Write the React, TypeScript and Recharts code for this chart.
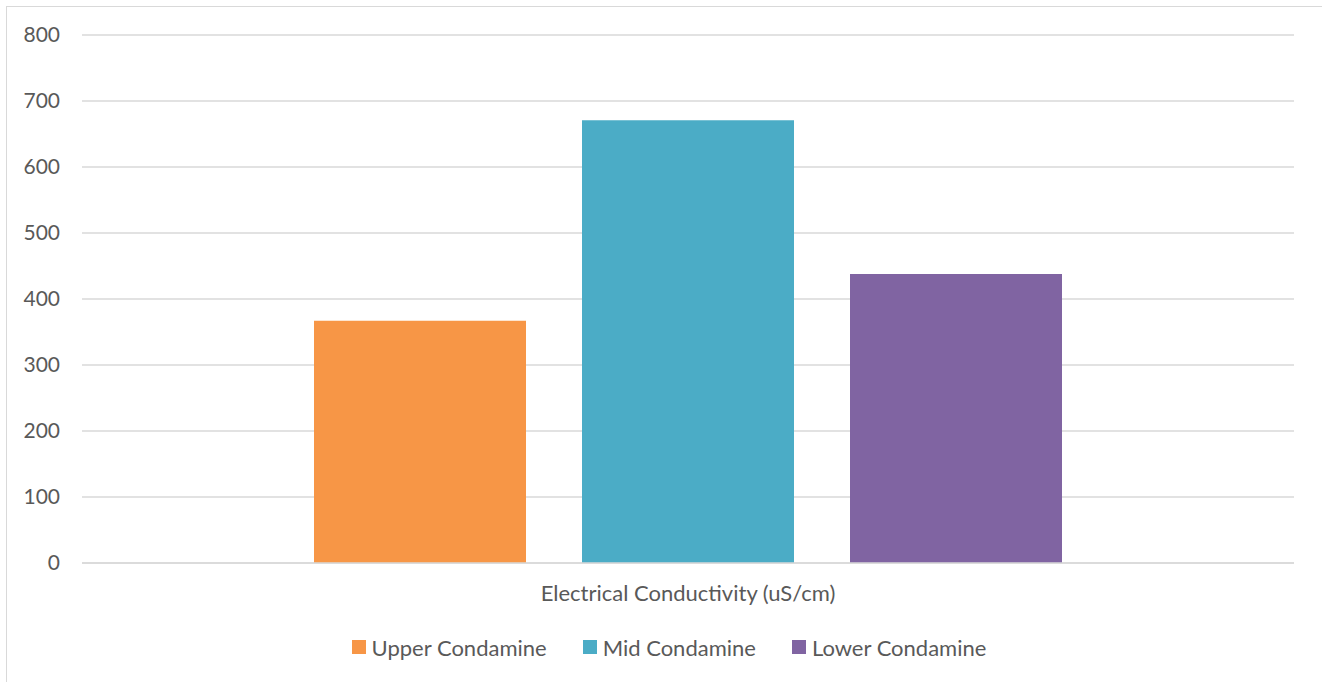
import { BarChart, Bar, XAxis, YAxis, CartesianGrid, Legend } from 'recharts';

const categories = ['Electrical Conductivity (uS/cm)'];
const seriesNames = ['Upper Condamine', 'Mid Condamine', 'Lower Condamine'];
const upperValues = [367];
const midValues = [671];
const lowerValues = [438];
const yTicks = [0, 100, 200, 300, 400, 500, 600, 700, 800];

const colors = ['#F79646', '#4BACC6', '#8064A2'];
const keys = ['upper', 'mid', 'lower'];

const data = categories.map((name, i) => ({
  name,
  upper: upperValues[i],
  mid: midValues[i],
  lower: lowerValues[i],
}));

const font = 'Lato, "Open Sans", sans-serif';
const textColor = '#595959';

function LegendContent({ payload }: any) {
  const items = [...(payload || [])].sort(
    (a: any, b: any) => seriesNames.indexOf(a.value) - seriesNames.indexOf(b.value)
  );
  return (
    <div style={{ height: 30, display: 'flex', justifyContent: 'center', alignItems: 'center', paddingLeft: 44, fontFamily: font, fontSize: 22, color: textColor }}>
      {items.map((p: any) => (
        <div key={p.value} style={{ display: 'flex', alignItems: 'center', margin: '0 18px' }}>
          <span style={{ width: 14, height: 14, background: p.color, display: 'inline-block', marginRight: 6 }} />
          <span>{p.value}</span>
        </div>
      ))}
    </div>
  );
}

export default function App() {
  return (
    <div style={{ position: 'absolute', left: 0, top: 0, width: 1322, height: 682, background: '#fff', overflow: 'hidden' }}>
      <div style={{ position: 'absolute', left: 6, top: 6, width: 1330, height: 690, border: '1px solid #d9d9d9', boxSizing: 'border-box' }} />
      <BarChart
        width={1322}
        height={682}
        data={data}
        margin={{ top: 35, right: 28, bottom: 20, left: 0 }}
        barSize={212}
        barGap={56}
        style={{ position: 'absolute', left: 0, top: 0 }}
      >
        <CartesianGrid vertical={false} stroke="#d9d9d9" strokeWidth={1.3} />
        <XAxis
          dataKey="name"
          height={69}
          tickLine={false}
          axisLine={{ stroke: '#d9d9d9', strokeWidth: 1.3 }}
          tickSize={0}
          tickMargin={22}
          tick={{ fontSize: 22, fill: textColor, fontFamily: font }}
        />
        <YAxis
          domain={[0, 800]}
          ticks={yTicks}
          width={82}
          tickLine={false}
          axisLine={false}
          tickSize={0}
          tickMargin={22}
          tick={{ fontSize: 21, fill: textColor, fontFamily: font }}
        />
        <Legend verticalAlign="bottom" content={<LegendContent />} />
        {keys.map((k, i) => (
          <Bar key={k} dataKey={k} name={seriesNames[i]} fill={colors[i]} isAnimationActive={false} />
        ))}
      </BarChart>
    </div>
  );
}
